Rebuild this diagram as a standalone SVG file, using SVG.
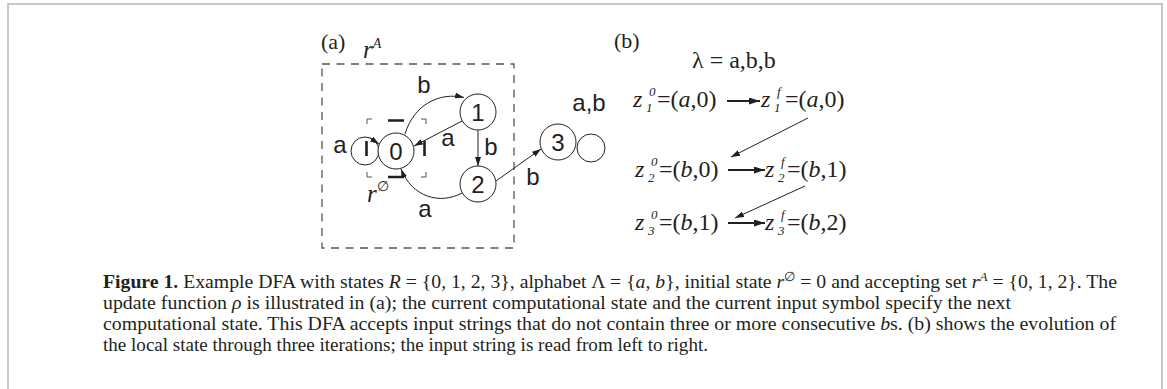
<svg xmlns="http://www.w3.org/2000/svg" width="1167" height="389" viewBox="0 0 1167 389">
<defs>
<style>
.sans{font-family:"Liberation Sans","Open Sans",sans-serif;fill:#231f20}
.serif{font-family:"Liberation Serif","DejaVu Serif",serif;fill:#231f20}
.it{font-style:italic}
.node{fill:#fff;stroke:#231f20;stroke-width:1}
.edge{fill:none;stroke:#231f20;stroke-width:1}
.hedge{fill:none;stroke:#231f20;stroke-width:1.8}
.dash{fill:none;stroke:#555;stroke-width:1.3;stroke-dasharray:8 6.5}
.corner{fill:none;stroke:#555;stroke-width:1}
.mark{fill:none;stroke:#231f20;stroke-width:2.6}
</style>
<marker id="ah" markerUnits="userSpaceOnUse" markerWidth="9" markerHeight="6" refX="9" refY="3" orient="auto"><path d="M0,0 L9,3 L0,6 Z" fill="#231f20"/></marker>
<marker id="ah2" markerUnits="userSpaceOnUse" markerWidth="11" markerHeight="7" refX="11" refY="3.5" orient="auto"><path d="M0,0 L11,3.5 L0,7 Z" fill="#231f20"/></marker>
</defs>
<rect width="1167" height="389" fill="#fff"/>
<path d="M8,389 V4 H1162 V389" fill="none" stroke="#c8c8c8" stroke-width="2"/>

<!-- panel labels -->
<text class="serif" x="321" y="49" font-size="22">(a)</text>
<text class="serif" x="614" y="48" font-size="22">(b)</text>

<!-- accepting set box -->
<g id="accepting-set">
<rect class="dash" x="322" y="64" width="192" height="184"/>
<text class="serif it" x="363" y="58" font-size="25">r<tspan dy="-10" font-size="14">A</tspan></text>
</g>

<!-- initial state box -->
<g id="initial-state">
<path class="corner" d="M367,124 V119 H372 M421,119 H426 V124 M367,172 V177 H372 M421,177 H426 V172"/>
<path class="mark" d="M388,120.5 H404 M388,177 H404 M366.5,141 V156 M424.5,141 V156"/>
<text class="serif it" x="367" y="202" font-size="25">r<tspan dy="-11" font-size="14" font-style="normal">∅</tspan></text>
</g>

<g id="connectors">
<circle class="edge" cx="365" cy="151" r="14"/>
<path class="edge" d="M370,138 L379,144" marker-end="url(#ah)"/>
<path class="edge" d="M405,134 C414,104 440,92 464,97.5" marker-end="url(#ah)"/>
<path class="edge" d="M462,121 L414,146" marker-end="url(#ah)"/>
<path class="edge" d="M478,130 L478,166" marker-end="url(#ah)"/>
<path class="edge" d="M462,193 C440,205 412,197 401,169" marker-end="url(#ah)"/>
<path class="edge" d="M496,181 L541,149" marker-end="url(#ah)"/>
<circle class="edge" cx="591" cy="148" r="14"/>
<path class="hedge" d="M727,101 L760,101" marker-end="url(#ah2)"/>
<path class="hedge" d="M728,170 L765,170" marker-end="url(#ah2)"/>
<path class="hedge" d="M728,223 L765,223" marker-end="url(#ah2)"/>
<path class="edge" d="M808,118 L731,157" marker-end="url(#ah)"/>
<path class="edge" d="M805,186 L735,218" marker-end="url(#ah)"/>
</g>

<g id="edge-labels" class="sans" font-size="24" text-anchor="middle">
<text x="340" y="153">a</text>
<text x="424" y="93">b</text>
<text x="448" y="146">a</text>
<text x="491" y="155">b</text>
<text x="425" y="217">a</text>
<text x="533" y="185">b</text>
<text x="589" y="111">a,b</text>
</g>

<g id="node-0"><circle class="node" cx="396" cy="151" r="18"/><text class="sans" x="396" y="160" font-size="24" text-anchor="middle">0</text></g>
<g id="node-1"><circle class="node" cx="478" cy="112" r="18"/><text class="sans" x="478" y="121" font-size="24" text-anchor="middle">1</text></g>
<g id="node-2"><circle class="node" cx="478" cy="184" r="18"/><text class="sans" x="478" y="193" font-size="24" text-anchor="middle">2</text></g>
<g id="node-3"><circle class="node" cx="558" cy="142" r="18"/><text class="sans" x="558" y="151" font-size="24" text-anchor="middle">3</text></g>

<!-- panel b -->
<g id="input-string"><text class="serif" x="692" y="68" font-size="24">λ = a,b,b</text></g>

<g id="z1-0" class="serif" font-size="24"><text x="633" y="107"><tspan class="it">z</tspan><tspan x="646" y="112" font-size="13" class="it">1</tspan><tspan x="649" y="96" font-size="13" class="it">0</tspan><tspan x="657" y="107">=(</tspan><tspan class="it">a</tspan>,0)</text></g>
<g id="z1-f" class="serif" font-size="24"><text x="761" y="107"><tspan class="it">z</tspan><tspan x="774" y="112" font-size="13" class="it">1</tspan><tspan x="777" y="96" font-size="13" class="it">f</tspan><tspan x="785" y="107">=(</tspan><tspan class="it">a</tspan>,0)</text></g>

<g id="z2-0" class="serif" font-size="24"><text x="635" y="177"><tspan class="it">z</tspan><tspan x="648" y="182" font-size="13" class="it">2</tspan><tspan x="651" y="166" font-size="13" class="it">0</tspan><tspan x="659" y="177">=(</tspan><tspan class="it">b</tspan>,0)</text></g>
<g id="z2-f" class="serif" font-size="24"><text x="765" y="177"><tspan class="it">z</tspan><tspan x="778" y="182" font-size="13" class="it">2</tspan><tspan x="781" y="166" font-size="13" class="it">f</tspan><tspan x="787" y="177">=(</tspan><tspan class="it">b</tspan>,1)</text></g>

<g id="z3-0" class="serif" font-size="24"><text x="635" y="230"><tspan class="it">z</tspan><tspan x="648" y="235" font-size="13" class="it">3</tspan><tspan x="651" y="219" font-size="13" class="it">0</tspan><tspan x="659" y="230">=(</tspan><tspan class="it">b</tspan>,1)</text></g>
<g id="z3-f" class="serif" font-size="24"><text x="765" y="230"><tspan class="it">z</tspan><tspan x="778" y="235" font-size="13" class="it">3</tspan><tspan x="781" y="219" font-size="13" class="it">f</tspan><tspan x="787" y="230">=(</tspan><tspan class="it">b</tspan>,2)</text></g>

<!-- caption -->
<g id="caption" class="serif" font-size="19.5">
<text x="103" y="288" textLength="1014" lengthAdjust="spacingAndGlyphs"><tspan font-weight="bold">Figure 1.</tspan> Example DFA with states <tspan class="it">R</tspan> = {0, 1, 2, 3}, alphabet Λ = {<tspan class="it">a</tspan>, <tspan class="it">b</tspan>}, initial state <tspan class="it">r</tspan><tspan dy="-7" font-size="13">∅</tspan><tspan dy="7"> = 0 and accepting set </tspan><tspan class="it">r</tspan><tspan dy="-7" font-size="13" class="it">A</tspan><tspan dy="7"> = {0, 1, 2}. The</tspan></text>
<text x="103" y="309" textLength="908" lengthAdjust="spacingAndGlyphs">update function <tspan class="it">ρ</tspan> is illustrated in (a); the current computational state and the current input symbol specify the next</text>
<text x="103" y="330" textLength="1013" lengthAdjust="spacingAndGlyphs">computational state. This DFA accepts input strings that do not contain three or more consecutive <tspan class="it">b</tspan>s. (b) shows the evolution of</text>
<text x="103" y="351" textLength="605" lengthAdjust="spacingAndGlyphs">the local state through three iterations; the input string is read from left to right.</text>
</g>
</svg>
